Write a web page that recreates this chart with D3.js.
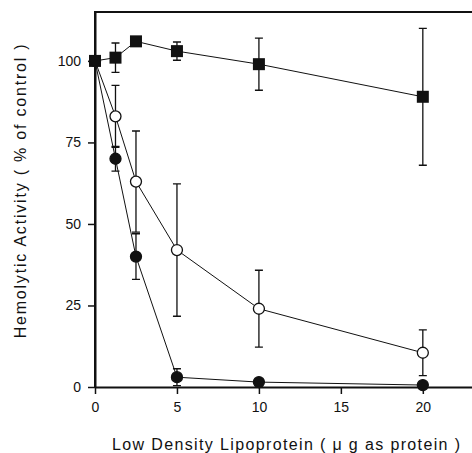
<!DOCTYPE html>
<html>
<head>
<meta charset="utf-8">
<script src="https://cdn.jsdelivr.net/npm/d3@7"></script>
<style>
  body { margin: 0; background: #fff; }
  svg { display: block; font-family: "Liberation Sans", Arial, sans-serif; }
</style>
</head>
<body>
<div id="chart"></div>
<script>
// LDL dose (ug protein)
const doses = [0, 1.25, 2.5, 5, 10, 20];

// filled squares
const squareMean = [100, 101, 106, 103, 99, 89];
const squareErr  = [0, 4.5, 1.2, 2.8, 8, 21];

// open circles
const openMean = [100, 83, 63, 42, 24, 10.5];
const openErr  = [0, 9.5, 15.5, 20.3, 11.8, 7];

// filled circles
const filledMean = [100, 70, 40, 3, 1.5, 0.6];
const filledErr  = [0, 3.8, 7, 2.6, 0, 0];

const xTicks = [0, 5, 10, 15, 20];
const yTicks = [0, 25, 50, 75, 100];

const width = 472, height = 453;

const x = d3.scaleLinear().domain([0, 23]).range([95, 472]);
const y = d3.scaleLinear().domain([0, 115]).range([387, 12]);

const svg = d3.select('#chart').append('svg')
    .attr('width', width)
    .attr('height', height);

// frame (top and left edges)
svg.append('path')
    .attr('d', `M${x(23)},${y(115)}H${x(0)}V${y(0)}`)
    .attr('fill', 'none')
    .attr('stroke', '#111')
    .attr('stroke-width', 2);

// axes
const xAxis = svg.append('g')
    .attr('transform', `translate(0,${y(0)})`)
    .call(d3.axisBottom(x).tickValues(xTicks).tickSize(7).tickSizeOuter(0).tickPadding(8));
const yAxis = svg.append('g')
    .attr('transform', `translate(${x(0)},0)`)
    .call(d3.axisLeft(y).tickValues(yTicks).tickSize(7).tickSizeOuter(0).tickPadding(7));

[xAxis, yAxis].forEach(g => {
    g.select('.domain').attr('stroke', '#111').attr('stroke-width', 2);
    g.selectAll('.tick line').attr('stroke', '#111').attr('stroke-width', 1.5);
    g.selectAll('.tick text')
        .attr('fill', '#111')
        .style('font-size', '14px')
        .style('font-family', '"Liberation Sans", Arial, sans-serif');
});

// series
const series = [
    { mean: squareMean, err: squareErr, shape: 'square' },
    { mean: openMean, err: openErr, shape: 'open' },
    { mean: filledMean, err: filledErr, shape: 'filled' }
];

const line = d3.line()
    .x((d, i) => x(doses[i]))
    .y(d => y(d));

series.forEach(s => {
    svg.append('path')
        .datum(s.mean)
        .attr('d', line)
        .attr('fill', 'none')
        .attr('stroke', '#111')
        .attr('stroke-width', 1);
});

series.forEach(s => {
    const g = svg.append('g');
    s.mean.forEach((m, i) => {
        const e = s.err[i];
        if (!e) return;
        const cx = x(doses[i]);
        g.append('path')
            .attr('d', `M${cx},${y(m + e)}V${y(m - e)}M${cx - 4},${y(m + e)}H${cx + 4}M${cx - 4},${y(m - e)}H${cx + 4}`)
            .attr('fill', 'none')
            .attr('stroke', '#111')
            .attr('stroke-width', 1.3);
    });
});

series.forEach(s => {
    const g = svg.append('g');
    if (s.shape === 'square') {
        g.selectAll('rect')
            .data(s.mean)
            .join('rect')
            .attr('x', (d, i) => x(doses[i]) - 6)
            .attr('y', d => y(d) - 6)
            .attr('width', 12)
            .attr('height', 12)
            .attr('fill', '#111');
    } else {
        g.selectAll('circle')
            .data(s.mean)
            .join('circle')
            .attr('cx', (d, i) => x(doses[i]))
            .attr('cy', d => y(d))
            .attr('r', 5.5)
            .attr('fill', s.shape === 'open' ? '#fff' : '#111')
            .attr('stroke', '#111')
            .attr('stroke-width', 1.3);
    }
});

// axis titles
svg.append('text')
    .attr('x', 286)
    .attr('y', 450)
    .attr('text-anchor', 'middle')
    .attr('fill', '#111')
    .attr('textLength', 348)
    .attr('lengthAdjust', 'spacing')
    .style('font-size', '16px')
    .text('Low Density Lipoprotein ( μ g as protein )');

svg.append('text')
    .attr('transform', `translate(26,${y(60)}) rotate(-90)`)
    .attr('text-anchor', 'middle')
    .attr('fill', '#111')
    .attr('textLength', 294)
    .attr('lengthAdjust', 'spacing')
    .style('font-size', '16px')
    .text('Hemolytic Activity ( % of control )');
</script>
</body>
</html>
